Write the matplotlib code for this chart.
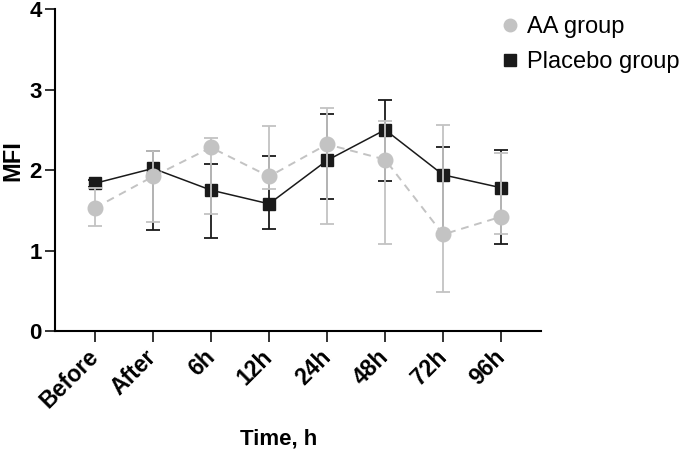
import numpy as np
import matplotlib
matplotlib.use("Agg")
import matplotlib.pyplot as plt
from matplotlib.lines import Line2D

plt.rcParams["font.family"] = ["Liberation Sans", "DejaVu Sans"]

time_points = ["Before", "After", "6h", "12h", "24h", "48h", "72h", "96h"]

# AA group (grey circles)
aa_mean = [1.53, 1.92, 2.28, 1.92, 2.32, 2.13, 1.20, 1.42]
aa_upper = [1.78, 2.24, 2.40, 2.55, 2.77, 2.61, 2.56, 2.21]
aa_lower = [1.30, 1.35, 1.45, 1.76, 1.33, 1.08, 0.48, 1.20]

# Placebo group (black squares)
pl_mean = [1.835, 2.02, 1.75, 1.58, 2.12, 2.50, 1.94, 1.78]
pl_upper = [1.88, 2.24, 2.08, 2.17, 2.70, 2.87, 2.28, 2.25]
pl_lower = [1.79, 1.25, 1.16, 1.27, 1.64, 1.86, 1.22, 1.08]

grey = "#c3c3c3"
black = "#1a1a1a"

fig = plt.figure(figsize=(6.85, 4.53), dpi=100)
ax = fig.add_axes([0.0803, 0.2693, 0.7097, 0.7107])

x = np.arange(len(time_points))

pl_err = [np.array(pl_mean) - np.array(pl_lower), np.array(pl_upper) - np.array(pl_mean)]
aa_err = [np.array(aa_mean) - np.array(aa_lower), np.array(aa_upper) - np.array(aa_mean)]

ax.errorbar(x, pl_mean, yerr=pl_err, color=black, lw=1.1, marker="s", ms=9,
            mfc=black, mec=black, ecolor=black, elinewidth=1.3, capsize=5,
            capthick=1.3, zorder=3)
ax.errorbar(x, aa_mean, yerr=aa_err, color=grey, lw=1.4, ls=(0, (4, 3)), marker="o",
            ms=10.5, mfc=grey, mec=grey, ecolor=grey, elinewidth=1.3, capsize=5,
            capthick=1.3, zorder=4)

ax.set_xlim(-0.69, 7.69)
ax.set_ylim(0, 4)
ax.set_yticks([0, 1, 2, 3, 4])
ax.set_xticks(x)
ax.set_xticklabels(time_points, rotation=45, ha="right", va="center",
                   rotation_mode="anchor", fontsize=16.5, fontweight="bold")
for lab in ax.get_yticklabels():
    lab.set_fontsize(16)
    lab.set_fontweight("bold")

ax.spines["top"].set_visible(False)
ax.spines["right"].set_visible(False)
ax.spines["left"].set_linewidth(1.5)
ax.spines["bottom"].set_linewidth(1.5)
ax.tick_params(axis="x", length=8, width=1.4, pad=8, color="#333333")
ax.tick_params(axis="y", length=7.5, width=1.4, pad=2, color="#333333")

ax.set_xlabel("Time, h", fontsize=16, fontweight="bold")
ax.xaxis.set_label_coords(0.461, -0.304)
ax.set_ylabel("MFI", fontsize=17, fontweight="bold")
ax.yaxis.set_label_coords(-0.064, 0.53)

handles = [
    Line2D([], [], ls="none", marker="o", ms=9, mfc=grey, mec=grey),
    Line2D([], [], ls="none", marker="s", ms=8, mfc=black, mec=black),
]
fig.legend(handles, ["AA group", "Placebo group"], loc="upper left",
           bbox_to_anchor=(0.693, 1.012), frameon=False, fontsize=17,
           handletextpad=0.1, labelspacing=0.55, handlelength=1.2)

fig.savefig("out.png", dpi=100)
